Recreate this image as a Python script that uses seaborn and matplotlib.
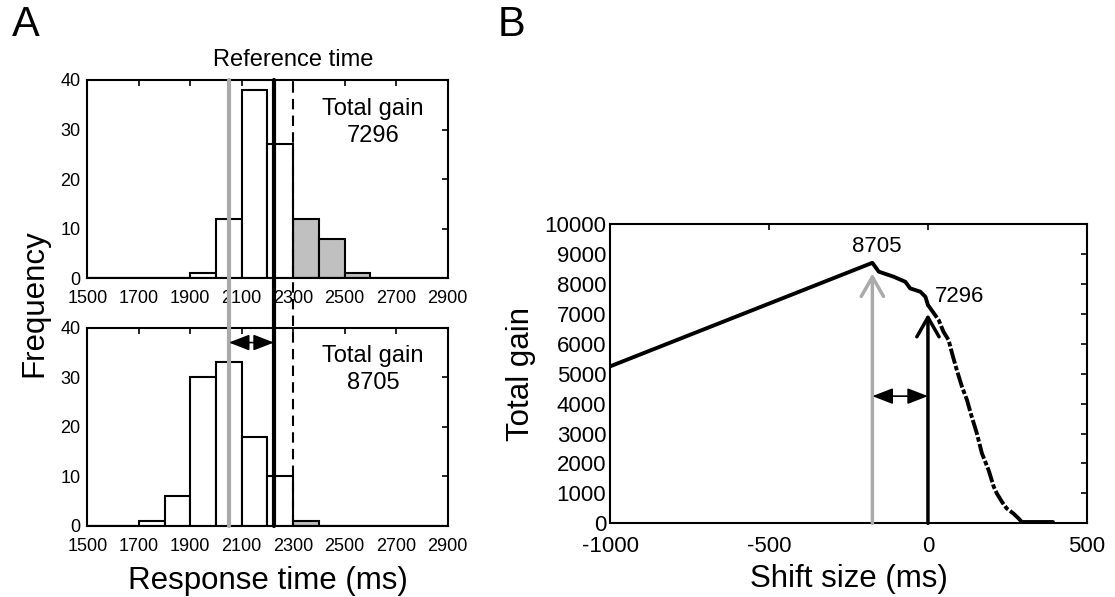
import matplotlib
matplotlib.use('Agg')
import matplotlib.pyplot as plt
import matplotlib.transforms as mtransforms
import seaborn as sns
import pandas as pd
import numpy as np

# --- Panel A: response-time histograms (100 ms bins, left edges) ---
bin_left_top = [1900, 2000, 2100, 2200, 2300, 2400, 2500]
count_top = [1, 12, 38, 27, 12, 8, 1]
bin_left_bottom = [1700, 1800, 1900, 2000, 2100, 2200, 2300]
count_bottom = [1, 6, 30, 33, 18, 10, 1]
gain_top = 7296
gain_bottom = 8705
shifted_time = 2050      # grey line
mean_time = 2225         # black line
reference_time = 2300    # dashed line
x_ticks_a = [1500, 1700, 1900, 2100, 2300, 2500, 2700, 2900]
y_ticks_a = [0, 10, 20, 30, 40]

# --- Panel B: total gain vs shift size ---
shift_ms = [-1000, -175, -155, -108, -71, -56, -24, -8, 0, 34, 49, 65, 76, 91,
            107, 123, 138, 154, 170, 191, 207, 217, 233, 248, 269, 285, 296, 395]
total_gain = [5250, 8705, 8410, 8240, 8070, 7850, 7740, 7570, 7296, 6790, 6400,
              6125, 5680, 5120, 4570, 4120, 3560, 3010, 2340, 1780, 1230, 1000,
              720, 500, 330, 170, 40, 40]
best_shift = -175
x_ticks_b = [-1000, -500, 0, 500]
y_ticks_b = list(range(0, 10001, 1000))

GREY_LINE = '#aaaaaa'
GREY_BAR = '#c0c0c0'

sns.set_theme(style='white')
plt.rcParams['font.family'] = ['Liberation Sans', 'DejaVu Sans']
plt.rcParams['axes.linewidth'] = 1.5
plt.rcParams['axes.edgecolor'] = 'black'
plt.rcParams['text.color'] = 'black'
plt.rcParams['axes.labelcolor'] = 'black'

fig = plt.figure(figsize=(11.15, 5.97), dpi=100)
ax_top = fig.add_axes([0.0783, 0.5338, 0.3232, 0.3322])
ax_bot = fig.add_axes([0.0783, 0.1194, 0.3232, 0.3317])
ax_b = fig.add_axes([0.5475, 0.1234, 0.4271, 0.5013])


def draw_hist(ax, lefts, counts):
    df = pd.DataFrame({'rt': np.array(lefts) + 50, 'n': counts})
    df['late'] = df['rt'] > reference_time
    sns.histplot(data=df, x='rt', weights='n', hue='late',
                 palette={False: 'white', True: GREY_BAR},
                 binwidth=100, binrange=(1500, 2900), alpha=1,
                 edgecolor='black', linewidth=1.5, legend=False, ax=ax)
    ax.set_xlim(1500, 2900)
    ax.set_ylim(0, 40)
    ax.set_xticks(x_ticks_a)
    ax.set_yticks(y_ticks_a)
    ax.set_xlabel('')
    ax.set_ylabel('')
    ax.tick_params(direction='in', top=True, right=True, length=4, width=1.2,
                   labelsize=13, colors='black')
    ax.tick_params(axis='x', pad=8.5)
    ax.tick_params(axis='y', pad=5)


draw_hist(ax_top, bin_left_top, count_top)
draw_hist(ax_bot, bin_left_bottom, count_bottom)

ax_top.text(2610, 31.5, f'Total gain\n{gain_top}', ha='center', va='center',
            fontsize=17, linespacing=1.3)
ax_bot.text(2610, 31.5, f'Total gain\n{gain_bottom}', ha='center', va='center',
            fontsize=17, linespacing=1.3)

# vertical lines spanning both histograms
p_top = ax_top.get_position()
p_bot = ax_bot.get_position()
span = (p_top.y1 - p_bot.y0) / p_bot.height
ax_bot.axvline(shifted_time, 0, span, color=GREY_LINE, lw=3, clip_on=False, zorder=5)
ax_bot.axvline(mean_time, 0, span, color='black', lw=3, clip_on=False, zorder=5)
ax_bot.axvline(reference_time, 0, span, color='black', lw=1.5, ls=(0, (5, 3)),
               clip_on=False, zorder=5)

ax_bot.annotate('', xy=(shifted_time, 37), xytext=(mean_time, 37),
                arrowprops=dict(arrowstyle='<|-|>,head_length=0.9,head_width=0.35',
                                color='black', lw=1.2, shrinkA=0, shrinkB=0,
                                mutation_scale=14), zorder=6)

trans = mtransforms.blended_transform_factory(ax_top.transData, ax_top.transAxes)
ax_top.text(reference_time, 1.1, 'Reference time', transform=trans,
            ha='center', va='center', fontsize=17)

ax_bot.set_xlabel('Response time (ms)', fontsize=22.5, labelpad=8)
fig.text(0.0305, 1 - 302.8 / 597, 'Frequency', rotation=90, ha='center',
         va='center', fontsize=22.5)

# --- Panel B ---
curve = pd.DataFrame({'shift': shift_ms, 'gain': total_gain})
rise = curve[curve['shift'] <= 0]
fall = curve[(curve['shift'] >= 0) & (curve['shift'] <= 296)]
flat = curve[curve['shift'] >= 296]
sns.lineplot(data=rise, x='shift', y='gain', color='black', lw=2.8, sort=False, ax=ax_b)
sns.lineplot(data=fall, x='shift', y='gain', color='black', lw=2.8, sort=False,
             ax=ax_b, dashes=False)
ax_b.lines[-1].set_linestyle((0, (4, 0.6, 1.2, 0.6)))
sns.lineplot(data=flat, x='shift', y='gain', color='black', lw=2.8, sort=False, ax=ax_b)

ax_b.annotate('', xy=(best_shift, 8350), xytext=(best_shift, 0),
              arrowprops=dict(arrowstyle='->,head_length=0.7,head_width=0.4',
                              color=GREY_LINE, lw=2.5, shrinkA=0, shrinkB=0,
                              mutation_scale=20), zorder=4)
ax_b.annotate('', xy=(0, 7000), xytext=(0, 0),
              arrowprops=dict(arrowstyle='->,head_length=0.7,head_width=0.4',
                              color='black', lw=2.5, shrinkA=0, shrinkB=0,
                              mutation_scale=20), zorder=4)
ax_b.annotate('', xy=(best_shift, 4250), xytext=(0, 4250),
              arrowprops=dict(arrowstyle='<|-|>,head_length=0.9,head_width=0.35',
                              color='black', lw=1.2, shrinkA=0, shrinkB=0,
                              mutation_scale=14), zorder=4)

ax_b.text(-160, 9250, str(gain_bottom), ha='center', va='center', fontsize=16)
ax_b.text(22, 7570, str(gain_top), ha='left', va='center', fontsize=16)

ax_b.set_xlim(-1000, 500)
ax_b.set_ylim(0, 10000)
ax_b.set_xticks(x_ticks_b)
ax_b.set_yticks(y_ticks_b)
ax_b.set_xticklabels([str(v) for v in x_ticks_b])
ax_b.tick_params(direction='in', top=True, right=True, length=4, width=1.2,
                 labelsize=16, colors='black')
ax_b.tick_params(axis='x', pad=9)
ax_b.tick_params(axis='y', pad=3)
ax_b.set_xlabel('Shift size (ms)', fontsize=22.5, labelpad=5)
ax_b.set_ylabel('Total gain', fontsize=22.5, labelpad=6)

fig.text(0.0105, 1 - 25 / 597, 'A', fontsize=30, va='center', ha='left')
fig.text(0.446, 1 - 25 / 597, 'B', fontsize=30, va='center', ha='left')

fig.savefig('out.png', dpi=100)
